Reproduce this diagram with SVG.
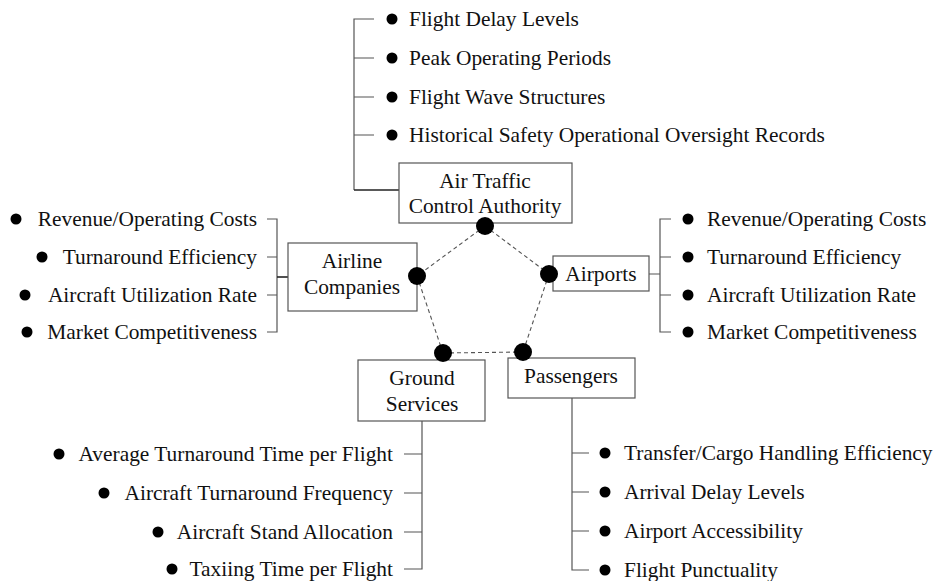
<svg xmlns="http://www.w3.org/2000/svg" width="939" height="581" viewBox="0 0 939 581">
<style>
text{font-family:"Liberation Serif","Times New Roman",serif;font-size:21.4px;fill:#111}
.c{text-anchor:middle}
.e{text-anchor:end}
.box{fill:#fff;stroke:#555;stroke-width:1.2}
.tree{fill:none;stroke:#555;stroke-width:1.2}
.dk{fill:none;stroke:#222;stroke-width:1.6}
.dash{fill:none;stroke:#555;stroke-width:1.1;stroke-dasharray:4 3}
.dot{fill:#000}
.b{fill:#000}
</style>
<rect width="939" height="581" fill="#fff"/>
<g id="connectors">
<path class="dash" d="M485,226 L417,276 M485,226 L549,274 M417,276 L443,353 M549,274 L523,352 M443,353 L523,352"/>
<path class="tree" d="M374,19 H354 V190 M354,58 H374 M354,97 H374 M354,135 H374"/>
<path class="dk" d="M354,190 H399"/>
<path class="tree" d="M267,219 H277 V332 H267 M267,257 H277 M267,295 H277"/>
<path class="dk" d="M277,277 H288"/>
<path class="tree" d="M671,219 H660 V332 H671 M660,257 H671 M660,295 H671 M649,274 H660"/>
<path class="tree" d="M422,421 V569 H404 M404,454 H422 M404,493 H422 M404,532 H422"/>
<path class="tree" d="M572,398 V570 H589 M572,453 H589 M572,492 H589 M572,531 H589"/>
</g>
<g id="atc">
<rect class="box" x="399" y="163" width="173" height="60"/>
<text class="c" x="485" y="188">Air Traffic</text>
<text class="c" x="485" y="213">Control Authority</text>
<circle class="dot" cx="485" cy="226" r="9"/>
</g>
<g id="atc-items">
<circle class="b" cx="392" cy="19" r="5.5"/><text x="409" y="26">Flight Delay Levels</text>
<circle class="b" cx="392" cy="58" r="5.5"/><text x="409" y="65">Peak Operating Periods</text>
<circle class="b" cx="392" cy="97" r="5.5"/><text x="409" y="104">Flight Wave Structures</text>
<circle class="b" cx="392" cy="135" r="5.5"/><text x="409" y="142">Historical Safety Operational Oversight Records</text>
</g>
<g id="airline">
<rect class="box" x="288" y="243" width="129" height="68"/>
<text class="c" x="352" y="268">Airline</text>
<text class="c" x="352" y="294">Companies</text>
<circle class="dot" cx="417" cy="276" r="9"/>
</g>
<g id="airline-items">
<circle class="b" cx="16" cy="219" r="5.5"/><text class="e" x="257" y="226">Revenue/Operating Costs</text>
<circle class="b" cx="42" cy="257" r="5.5"/><text class="e" x="257" y="264">Turnaround Efficiency</text>
<circle class="b" cx="25" cy="295" r="5.5"/><text class="e" x="257" y="302">Aircraft Utilization Rate</text>
<circle class="b" cx="27" cy="332" r="5.5"/><text class="e" x="257" y="339">Market Competitiveness</text>
</g>
<g id="airports">
<rect class="box" x="553" y="256" width="96" height="35"/>
<text class="c" x="601" y="281">Airports</text>
<circle class="dot" cx="549" cy="274" r="9"/>
</g>
<g id="airports-items">
<circle class="b" cx="688" cy="219" r="5.5"/><text x="707" y="226">Revenue/Operating Costs</text>
<circle class="b" cx="688" cy="257" r="5.5"/><text x="707" y="264">Turnaround Efficiency</text>
<circle class="b" cx="688" cy="295" r="5.5"/><text x="707" y="302">Aircraft Utilization Rate</text>
<circle class="b" cx="688" cy="332" r="5.5"/><text x="707" y="339">Market Competitiveness</text>
</g>
<g id="ground">
<rect class="box" x="358" y="360" width="127" height="61"/>
<text class="c" x="422" y="385">Ground</text>
<text class="c" x="422" y="411">Services</text>
<circle class="dot" cx="443" cy="353" r="9"/>
</g>
<g id="ground-items">
<circle class="b" cx="59" cy="454" r="5.5"/><text class="e" x="393" y="461">Average Turnaround Time per Flight</text>
<circle class="b" cx="104" cy="493" r="5.5"/><text class="e" x="393" y="500">Aircraft Turnaround Frequency</text>
<circle class="b" cx="158" cy="532" r="5.5"/><text class="e" x="393" y="539">Aircraft Stand Allocation</text>
<circle class="b" cx="172" cy="569" r="5.5"/><text class="e" x="393" y="576">Taxiing Time per Flight</text>
</g>
<g id="passengers">
<rect class="box" x="508" y="358" width="127" height="40"/>
<text class="c" x="571" y="383">Passengers</text>
<circle class="dot" cx="523" cy="352" r="9"/>
</g>
<g id="passengers-items">
<circle class="b" cx="605" cy="453" r="5.5"/><text x="624" y="460">Transfer/Cargo Handling Efficiency</text>
<circle class="b" cx="605" cy="492" r="5.5"/><text x="624" y="499">Arrival Delay Levels</text>
<circle class="b" cx="605" cy="531" r="5.5"/><text x="624" y="538">Airport Accessibility</text>
<circle class="b" cx="605" cy="570" r="5.5"/><text x="624" y="577">Flight Punctuality</text>
</g>
</svg>
